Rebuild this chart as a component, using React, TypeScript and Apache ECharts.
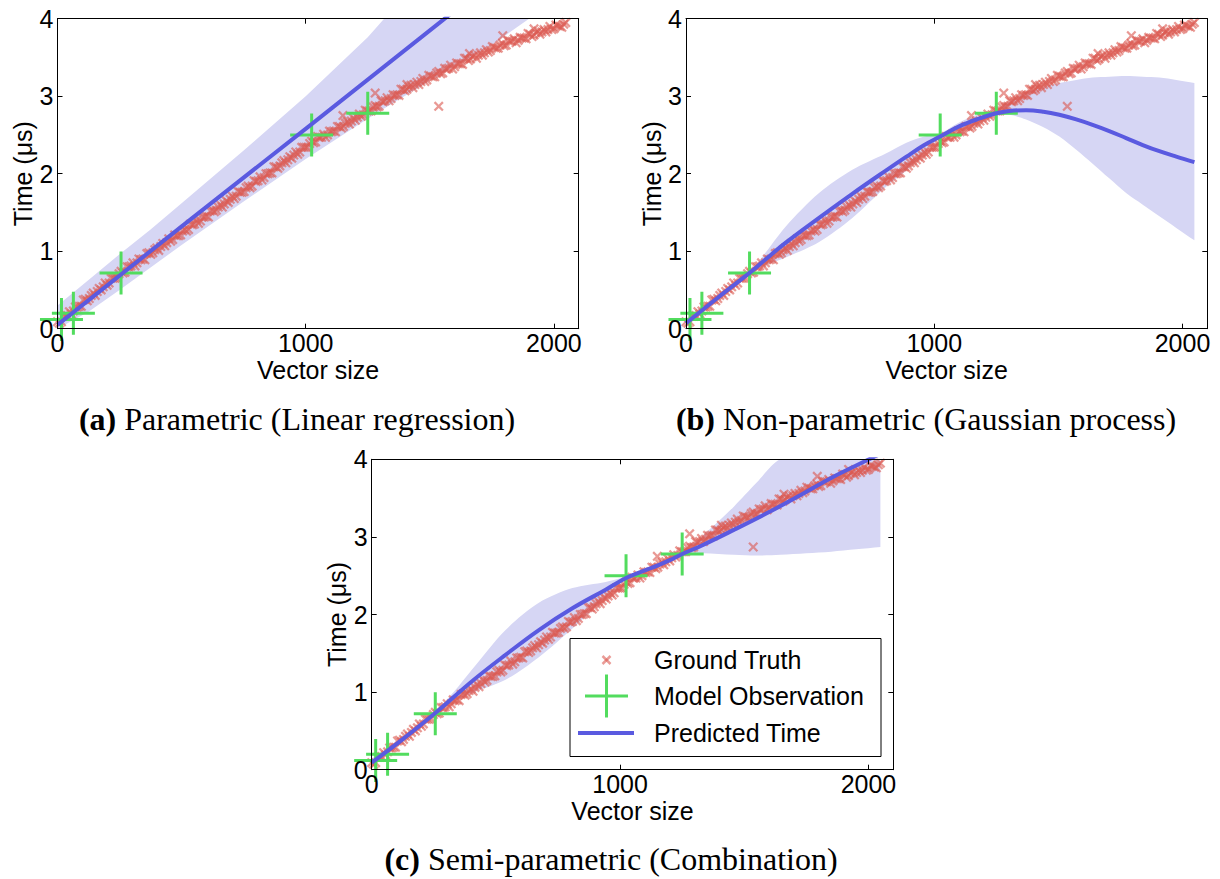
import React, { useEffect, useRef } from 'react';
import * as echarts from 'echarts';

// ---------- data ----------
const GT_X = [
  0, 16, 32, 48, 64, 80, 96, 112, 128, 144, 160, 176, 192, 208, 224, 240,
  256, 272, 288, 304, 320, 336, 352, 368, 384, 400, 416, 432, 448, 464, 480, 496,
  512, 528, 544, 560, 576, 592, 608, 624, 640, 656, 672, 688, 704, 720, 736, 752,
  768, 784, 800, 816, 832, 848, 864, 880, 896, 912, 928, 944, 960, 976, 992, 1008,
  1024, 1040, 1056, 1072, 1088, 1104, 1120, 1136, 1152, 1168, 1184, 1200, 1216, 1232, 1248, 1264,
  1280, 1296, 1312, 1328, 1344, 1360, 1376, 1392, 1408, 1424, 1440, 1456, 1472, 1488, 1504, 1520,
  1536, 1552, 1568, 1584, 1600, 1616, 1632, 1648, 1664, 1680, 1696, 1712, 1728, 1744, 1760, 1776,
  1792, 1808, 1824, 1840, 1856, 1872, 1888, 1904, 1920, 1936, 1952, 1968, 1984, 2000, 2016, 2032,
  2048,
];
const GT_Y = [
  0.09, 0.09, 0.16, 0.22, 0.23, 0.28, 0.29, 0.38, 0.39, 0.46, 0.48, 0.50, 0.59, 0.59, 0.65, 0.66,
  0.74, 0.73, 0.80, 0.85, 0.85, 0.89, 0.89, 0.98, 0.98, 1.04, 1.06, 1.07, 1.16, 1.15, 1.20, 1.21,
  1.28, 1.28, 1.34, 1.40, 1.39, 1.44, 1.44, 1.53, 1.53, 1.60, 1.61, 1.63, 1.71, 1.71, 1.76, 1.77,
  1.84, 1.84, 1.90, 1.96, 1.95, 2.00, 2.01, 2.09, 2.10, 2.17, 2.18, 2.20, 2.28, 2.28, 2.34, 2.34,
  2.42, 2.41, 2.47, 2.51, 2.50, 2.54, 2.54, 2.61, 2.61, 2.67, 2.68, 2.69, 2.77, 2.76, 2.81, 2.81,
  2.88, 2.87, 2.93, 2.98, 2.97, 3.01, 3.01, 3.09, 3.09, 3.14, 3.15, 3.15, 3.23, 3.21, 3.26, 3.25,
  3.32, 3.30, 3.35, 3.40, 3.38, 3.42, 3.41, 3.49, 3.48, 3.53, 3.53, 3.53, 3.60, 3.59, 3.63, 3.62,
  3.68, 3.66, 3.71, 3.74, 3.72, 3.75, 3.74, 3.80, 3.79, 3.84, 3.83, 3.83, 3.90, 3.87, 3.91, 3.89,
  3.95,
];
const GT_X2 = [
  8, 24, 40, 56, 72, 88, 104, 120, 136, 152, 168, 184, 200, 216, 232, 248,
  264, 280, 296, 312, 328, 344, 360, 376, 392, 408, 424, 440, 456, 472, 488, 504,
  520, 536, 552, 568, 584, 600, 616, 632, 648, 664, 680, 696, 712, 728, 744, 760,
  776, 792, 808, 824, 840, 856, 872, 888, 904, 920, 936, 952, 968, 984, 1000, 1016,
  1032, 1048, 1064, 1080, 1096, 1112, 1128, 1144, 1160, 1176, 1192, 1208, 1224, 1240, 1256, 1272,
  1288, 1304, 1320, 1336, 1352, 1368, 1384, 1400, 1416, 1432, 1448, 1464, 1480, 1496, 1512, 1528,
  1544, 1560, 1576, 1592, 1608, 1624, 1640, 1656, 1672, 1688, 1704, 1720, 1736, 1752, 1768, 1784,
  1800, 1816, 1832, 1848, 1864, 1880, 1896, 1912, 1928, 1944, 1960, 1976, 1992, 2008, 2024, 2040,
];
const GT_Y2 = [
  0.07, 0.16, 0.17, 0.19, 0.28, 0.29, 0.37, 0.36, 0.43, 0.43, 0.52, 0.54, 0.56, 0.65, 0.65, 0.71,
  0.72, 0.80, 0.81, 0.81, 0.90, 0.90, 0.97, 0.96, 1.02, 1.01, 1.10, 1.11, 1.13, 1.21, 1.20, 1.26,
  1.26, 1.35, 1.35, 1.36, 1.44, 1.45, 1.52, 1.51, 1.57, 1.57, 1.65, 1.67, 1.68, 1.77, 1.76, 1.82,
  1.82, 1.91, 1.91, 1.92, 2.00, 2.01, 2.09, 2.07, 2.14, 2.14, 2.22, 2.24, 2.25, 2.34, 2.34, 2.39,
  2.40, 2.48, 2.47, 2.47, 2.55, 2.55, 2.61, 2.59, 2.65, 2.64, 2.72, 2.73, 2.74, 2.82, 2.81, 2.86,
  2.86, 2.94, 2.94, 2.94, 3.02, 3.02, 3.09, 3.07, 3.12, 3.11, 3.18, 3.19, 3.19, 3.27, 3.25, 3.30,
  3.29, 3.36, 3.36, 3.35, 3.43, 3.42, 3.49, 3.46, 3.51, 3.49, 3.56, 3.56, 3.57, 3.64, 3.62, 3.66,
  3.65, 3.72, 3.71, 3.69, 3.76, 3.75, 3.81, 3.77, 3.82, 3.80, 3.86, 3.86, 3.86, 3.92, 3.90, 3.93,
];
const OUT_X = [1150, 1280, 1408, 1536, 1660, 1794, 1920];
const OUT_Y = [2.75, 3.04, 3.15, 2.87, 3.55, 3.78, 3.87];

const OBS_X = [16, 64, 256, 1024, 1250];
const OBS_Y = [0.12, 0.2, 0.72, 2.5, 2.78];

// (a) parametric
const A_PRED_X = [0, 512, 1024, 1536, 2048];
const A_PRED_Y = [0.05, 1.35, 2.64, 3.94, 5.24];
const A_BAND_X = [0, 125, 250, 375, 500, 750, 1000, 1250, 1316, 1500, 1750, 1900, 2048];
const A_BAND_LO = [0.0, 0.22, 0.5, 0.79, 1.08, 1.64, 2.19, 2.71, 2.84, 3.2, 3.66, 4.0, 4.18];
const A_BAND_HI = [0.3, 0.63, 0.96, 1.28, 1.62, 2.3, 3.0, 3.76, 4.0, 4.6, 5.4, 5.9, 6.4];

// (b) non-parametric
const B_X = [0, 128, 256, 308, 402, 536, 670, 805, 888, 960, 1024, 1100, 1180, 1250, 1303, 1370, 1440, 1504, 1572, 1638, 1705, 1773, 1840, 1907, 1975, 2048];
const B_PRED_Y = [0.07, 0.4, 0.72, 0.86, 1.11, 1.43, 1.74, 2.04, 2.22, 2.37, 2.48, 2.61, 2.71, 2.78, 2.81, 2.82, 2.8, 2.76, 2.7, 2.63, 2.55, 2.46, 2.37, 2.29, 2.22, 2.15];
const B_BAND_LO = [0.02, 0.36, 0.7, 0.8, 0.92, 1.12, 1.43, 1.83, 2.04, 2.28, 2.45, 2.55, 2.66, 2.75, 2.76, 2.7, 2.6, 2.48, 2.31, 2.13, 1.94, 1.75, 1.6, 1.45, 1.3, 1.14];
const B_BAND_HI = [0.12, 0.44, 0.74, 0.93, 1.32, 1.75, 2.05, 2.26, 2.4, 2.48, 2.52, 2.66, 2.77, 2.82, 2.93, 3.05, 3.12, 3.17, 3.21, 3.24, 3.25, 3.26, 3.25, 3.24, 3.21, 3.17];

// (c) semi-parametric
const C_PRED_X = [0, 128, 256, 404, 539, 673, 808, 942, 1024, 1100, 1150, 1200, 1250, 1323, 1458, 1600, 1727, 1850, 1996, 2048];
const C_PRED_Y = [0.09, 0.4, 0.73, 1.14, 1.48, 1.8, 2.08, 2.32, 2.47, 2.57, 2.63, 2.7, 2.78, 2.88, 3.09, 3.32, 3.54, 3.76, 3.99, 4.07];
const C_BAND_X = [0, 128, 256, 330, 404, 539, 673, 808, 942, 1024, 1100, 1150, 1250, 1327, 1458, 1550, 1645, 1750, 1850, 1950, 2048];
const C_BAND_LO = [0.04, 0.37, 0.71, 0.88, 0.99, 1.16, 1.45, 1.82, 2.22, 2.45, 2.55, 2.61, 2.76, 2.79, 2.77, 2.76, 2.77, 2.79, 2.81, 2.84, 2.87];
const C_BAND_HI = [0.14, 0.43, 0.75, 1.0, 1.29, 1.8, 2.15, 2.34, 2.42, 2.49, 2.59, 2.66, 2.8, 3.0, 3.39, 3.7, 4.0, 4.35, 4.7, 5.0, 5.3];

const X_TICKS = [0, 1000, 2000];
const Y_TICKS = [0, 1, 2, 3, 4];
const X_NAME = 'Vector size';
const Y_NAME = 'Time (μs)';
const CAPTION_TAGS = ['(a)', '(b)', '(c)'];
const CAPTION_TEXTS = ['Parametric (Linear regression)', 'Non-parametric (Gaussian process)', 'Semi-parametric (Combination)'];
const LEGEND_NAMES = ['Ground Truth', 'Model Observation', 'Predicted Time'];

// ---------- styles ----------
const RED = '#dc5a52';
const GREEN = '#52dc5e';
const BLUE = '#5a5ae0';
const BAND = '#d6d6f4';
const SANS = 'Liberation Sans';
const SERIF = 'Liberation Serif';
const X_PATH = 'path://M0,1.6L1.6,0L5,3.4L8.4,0L10,1.6L6.6,5L10,8.4L8.4,10L5,6.6L1.6,10L0,8.4L3.4,5Z';
const PLUS_PATH = 'path://M0,20L20,20L20,0L23,0L23,20L43,20L43,23L23,23L23,43L20,43L20,23L0,23Z';
const Y_MAX = Y_TICKS[Y_TICKS.length - 1];

const GRIDS = [
  { left: 57.5, top: 18.7, width: 521.2, height: 310 },
  { left: 686, top: 18.7, width: 521.3, height: 310 },
  { left: 371.7, top: 459.3, width: 521.6, height: 310.4 },
];

const pairs = (xs: number[], ys: number[]) => xs.map((x, k) => [x, ys[k]]);

function bandSeries(i: number, bx: number[], lo: number[], hi: number[], smooth: boolean) {
  return {
    type: 'custom', xAxisIndex: 2 * i, yAxisIndex: 2 * i, clip: true, silent: true, z: 1,
    data: bx.map((x, k) => [x, lo[k], hi[k]]),
    encode: { x: 0, y: [1, 2] },
    renderItem: (params: any, api: any) => {
      if (params.dataIndex !== 0) return null;
      const top = bx.map((x, k) => api.coord([x, Math.min(hi[k], Y_MAX)]));
      const bot = bx.map((x, k) => api.coord([x, Math.min(lo[k], Y_MAX)])).reverse();
      // duplicated corner points keep the end edges straight when smoothing
      const pts = [top[0], ...top, top[top.length - 1], bot[0], ...bot, bot[bot.length - 1]];
      return {
        type: 'polygon',
        shape: { points: pts, smooth: smooth ? 0.3 : 0 },
        style: { fill: BAND, stroke: 'none' },
      };
    },
  };
}

function panelSeries(i: number, bx: number[], lo: number[], hi: number[], px: number[], py: number[], smooth: boolean) {
  const ax = { xAxisIndex: 2 * i, yAxisIndex: 2 * i };
  const sm = smooth ? 0.4 : false;
  return [
    bandSeries(i, bx, lo, hi, smooth),
    {
      type: 'scatter', ...ax, data: pairs(GT_X, GT_Y).concat(pairs(GT_X2, GT_Y2), pairs(OUT_X, OUT_Y)),
      symbol: X_PATH, symbolSize: 10, itemStyle: { color: RED, opacity: 0.62 }, z: 2,
    },
    {
      type: 'scatter', ...ax, data: pairs(OBS_X, OBS_Y),
      symbol: PLUS_PATH, symbolSize: 43, itemStyle: { color: GREEN, opacity: 1 }, z: 3,
    },
    {
      type: 'line', ...ax, data: pairs(px, py), symbol: 'none', smooth: sm,
      lineStyle: { color: BLUE, width: 4 }, z: 4,
    },
  ];
}

export default function App() {
  const ref = useRef<HTMLDivElement>(null);
  useEffect(() => {
    if (!ref.current) return;
    const chart = echarts.init(ref.current, undefined, { renderer: 'svg' });
    const axisLine = { show: true, onZero: false, lineStyle: { color: '#000', width: 1 } };
    const axisTick = { show: true, inside: true, length: 5, lineStyle: { color: '#000', width: 1 } };
    const xAxis: any[] = [];
    const yAxis: any[] = [];
    GRIDS.forEach((_, i) => {
      const xBase = { type: 'value', gridIndex: i, min: 0, max: 2100, interval: X_TICKS[1] - X_TICKS[0], splitLine: { show: false }, axisLine, axisTick, z: 10 };
      xAxis.push({
        ...xBase, position: 'bottom', name: X_NAME, nameLocation: 'middle', nameGap: 29,
        nameTextStyle: { fontSize: 25, color: '#000', fontFamily: SANS },
        axisLabel: { fontSize: 25, color: '#000', fontFamily: SANS, margin: 2, formatter: (v: number) => (X_TICKS.includes(v) ? String(v) : '') },
      });
      xAxis.push({ ...xBase, position: 'top', axisLabel: { show: false } });
      const yBase = { type: 'value', gridIndex: i, min: Y_TICKS[0], max: Y_MAX, interval: 1, splitLine: { show: false }, axisLine, axisTick, z: 10 };
      yAxis.push({
        ...yBase, position: 'left', name: Y_NAME, nameLocation: 'middle', nameGap: 21,
        nameTextStyle: { fontSize: 25, color: '#000', fontFamily: SANS },
        axisLabel: { fontSize: 25, color: '#000', fontFamily: SANS, margin: 4 },
      });
      yAxis.push({ ...yBase, position: 'right', axisLabel: { show: false } });
    });

    const series = [
      ...panelSeries(0, A_BAND_X, A_BAND_LO, A_BAND_HI, A_PRED_X, A_PRED_Y, false),
      ...panelSeries(1, B_X, B_BAND_LO, B_BAND_HI, B_X, B_PRED_Y, true),
      ...panelSeries(2, C_BAND_X, C_BAND_LO, C_BAND_HI, C_PRED_X, C_PRED_Y, true),
    ];

    const capPos = [[297, 419], [926, 419], [611, 859]];
    const captions = CAPTION_TAGS.map((tag, i) => ({
      type: 'text', x: capPos[i][0], y: capPos[i][1], z: 100,
      style: {
        text: '{b|' + tag + '} ' + CAPTION_TEXTS[i],
        rich: { b: { fontWeight: 'bold', fontSize: 32, fontFamily: SERIF, fill: '#000' } },
        fontSize: 32, fontFamily: SERIF, fill: '#000',
        align: 'center', verticalAlign: 'middle', textAlign: 'center', textVerticalAlign: 'middle',
      },
    }));

    const lx = 606.5;
    const legend = [
      { type: 'rect', z: 100, shape: { x: 570, y: 638.5, width: 311, height: 118 }, style: { fill: '#fff', stroke: '#000', lineWidth: 1 } },
      { type: 'line', z: 101, shape: { x1: lx - 4, y1: 656, x2: lx + 4, y2: 664 }, style: { stroke: RED, lineWidth: 2.5, opacity: 0.6 } },
      { type: 'line', z: 101, shape: { x1: lx + 4, y1: 656, x2: lx - 4, y2: 664 }, style: { stroke: RED, lineWidth: 2.5, opacity: 0.6 } },
      { type: 'line', z: 101, shape: { x1: lx - 21.5, y1: 696, x2: lx + 21.5, y2: 696 }, style: { stroke: GREEN, lineWidth: 3 } },
      { type: 'line', z: 101, shape: { x1: lx, y1: 674.5, x2: lx, y2: 717.5 }, style: { stroke: GREEN, lineWidth: 3 } },
      { type: 'line', z: 101, shape: { x1: 578, y1: 733, x2: 634, y2: 733 }, style: { stroke: BLUE, lineWidth: 4 } },
      ...LEGEND_NAMES.map((n, k) => ({
        type: 'text', z: 101, x: 654, y: [660, 696, 733][k],
        style: { text: n, fontSize: 25, fontFamily: SANS, fill: '#000', align: 'left', verticalAlign: 'middle', textAlign: 'left', textVerticalAlign: 'middle' },
      })),
    ];

    chart.setOption({
      animation: false,
      backgroundColor: '#fff',
      textStyle: { fontFamily: SANS },
      grid: GRIDS.map((g) => ({ ...g, containLabel: false })),
      xAxis,
      yAxis,
      series,
      graphic: [...captions, ...legend],
    });
    return () => chart.dispose();
  }, []);
  return <div ref={ref} style={{ position: 'fixed', left: 0, top: 0, width: 1220, height: 879, background: '#fff' }} />;
}
